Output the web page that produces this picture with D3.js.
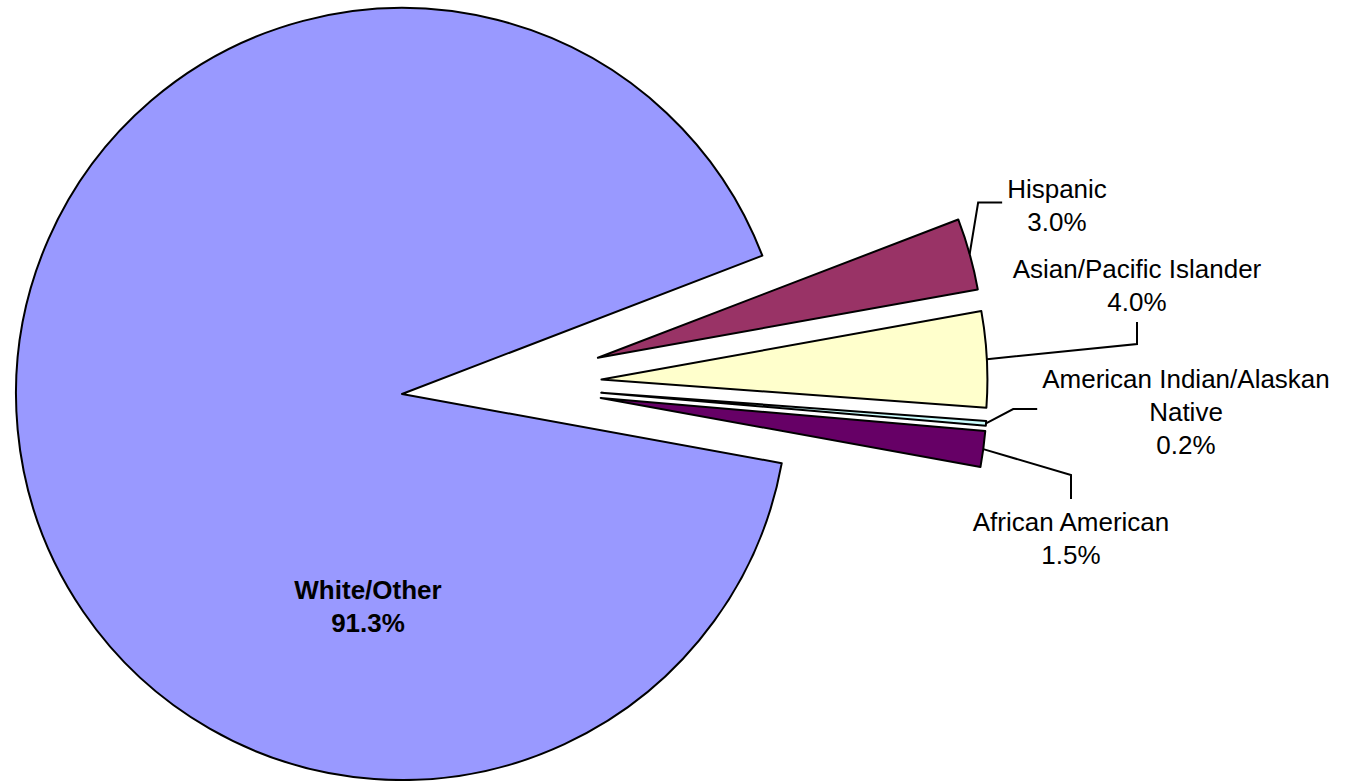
<!DOCTYPE html>
<html>
<head>
<meta charset="utf-8">
<script src="https://cdn.jsdelivr.net/npm/d3@7"></script>
<style>
  body { margin: 0; background: #fff; }
  text { font-family: "Liberation Sans", Arial, sans-serif; }
</style>
</head>
<body>
<svg id="pie" width="1348" height="781"></svg>
<script>
// data
var categories = ["Hispanic", "Asian/Pacific Islander", "American Indian/Alaskan Native", "African American", "White/Other"];
var shares = [3.0, 4.0, 0.2, 1.5, 91.3];
var labelLines = [["Hispanic"], ["Asian/Pacific Islander"], ["American Indian/Alaskan", "Native"], ["African American"], ["White/Other"]];
var exploded = [true, true, true, true, false];

// styles
var colors = ["#993366", "#FFFFCC", "#CCFFFF", "#660066", "#9999FF"];

// label placement: centre x, first baseline, side the leader line hits
var labelLayout = [
  {x: 1057, y: 198, side: "left"},
  {x: 1137, y: 278, side: "bottom"},
  {x: 1186, y: 388, side: "left"},
  {x: 1071, y: 531, side: "top"},
  {x: 368, y: 599, side: null}
];

window.onload = function() {
  var svg = d3.select("#pie"),
      cx = 402, cy = 394,
      radius = 386,
      firstSlice = 69 * Math.PI / 180,
      groupExplode = 100,
      sliceExplode = 100,
      lineStep = 33;

  var data = categories.map(function(c, i) {
    return {name: c, share: shares[i], lines: labelLines[i], exploded: exploded[i], color: colors[i], layout: labelLayout[i]};
  });

  var pie = d3.pie()
      .sort(null)
      .value(function(d) { return d.share; })
      .startAngle(firstSlice)
      .endAngle(firstSlice + 2 * Math.PI);

  var arcs = pie(data);

  var arc = d3.arc()
      .innerRadius(0)
      .outerRadius(radius);

  // the small slices are pulled out as a group, then each one on its own
  var ex = arcs.filter(function(a) { return a.data.exploded; });
  var groupMid = (ex[0].startAngle + ex[ex.length - 1].endAngle) / 2;

  function polar(r, a) { return [r * Math.sin(a), -r * Math.cos(a)]; }

  function offset(a) {
    if (!a.data.exploded) return [0, 0];
    var mid = (a.startAngle + a.endAngle) / 2;
    var g = polar(groupExplode, groupMid), s = polar(sliceExplode, mid);
    return [g[0] + s[0], g[1] + s[1]];
  }

  var g = svg.append("g").attr("transform", "translate(" + cx + "," + cy + ")");

  g.selectAll("path.slice")
    .data(arcs)
    .enter().append("path")
      .attr("class", "slice")
      .attr("transform", function(a) { var o = offset(a); return "translate(" + o[0] + "," + o[1] + ")"; })
      .attr("d", arc)
      .attr("fill", function(a) { return a.data.color; })
      .attr("stroke", "#000")
      .attr("stroke-width", 2)
      .attr("stroke-linejoin", "round");

  var fmt = d3.format(".1f");

  arcs.forEach(function(a) {
    var d = a.data, L = d.layout;
    var lines = d.lines.concat([fmt(d.share) + "%"]);
    var t = svg.append("text")
        .attr("text-anchor", "middle")
        .attr("font-size", 26)
        .attr("font-weight", d.exploded ? "normal" : "bold")
        .attr("fill", "#000");
    lines.forEach(function(s, i) {
      t.append("tspan").attr("x", L.x).attr("y", L.y + i * lineStep).text(s);
    });

    if (!L.side) return;
    var bb = t.node().getBBox();
    var o = offset(a), mid = (a.startAngle + a.endAngle) / 2;
    var p = polar(radius, mid);
    var start = [cx + o[0] + p[0], cy + o[1] + p[1]], end, elbow;
    if (L.side === "left") {
      end = [bb.x - 5, bb.y + bb.height / 2 - 3];
      elbow = [end[0] - 24, end[1]];
    } else if (L.side === "bottom") {
      end = [L.x, bb.y + bb.height + 5];
      elbow = [end[0], end[1] + 22];
    } else {
      end = [L.x, bb.y - 8];
      elbow = [end[0], end[1] - 24];
    }
    svg.append("path")
      .attr("d", d3.line()([start, elbow, end]))
      .attr("fill", "none")
      .attr("stroke", "#000")
      .attr("stroke-width", 2);
  });
};
</script>
</body>
</html>
